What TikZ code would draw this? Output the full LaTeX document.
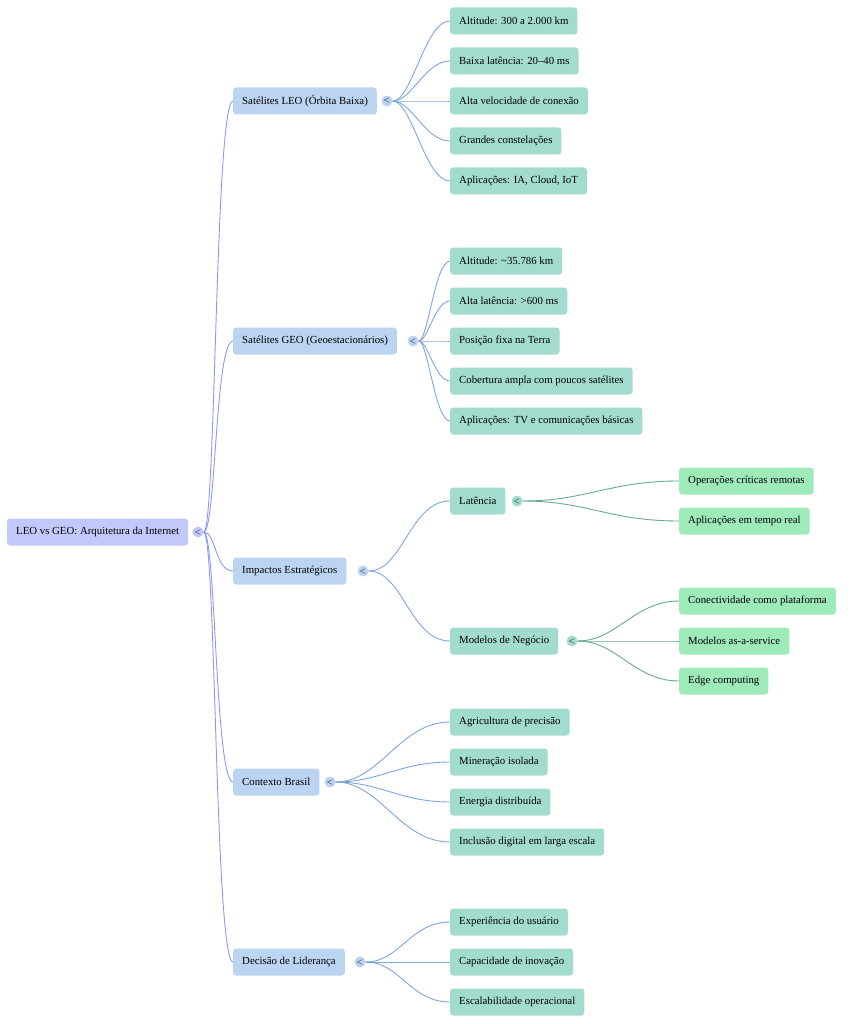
\documentclass[tikz,border=0pt]{standalone}
\usepackage{fontspec}
\setmainfont{Liberation Serif}
\usetikzlibrary{positioning}
\definecolor{rootc}{HTML}{C3C8FA}
\definecolor{lvla}{HTML}{BBD4F1}
\definecolor{lvlb}{HTML}{A2DCCE}
\definecolor{lvlc}{HTML}{9FEAB9}
\definecolor{ea}{HTML}{8E98F2}
\definecolor{eb}{HTML}{7FA5DD}
\definecolor{ec}{HTML}{6AA88F}
\tikzset{
  box/.style={anchor=west, rounded corners=3pt, minimum height=27pt, inner xsep=9pt, font=\fontsize{10.8}{13}\selectfont},
  root/.style={box, fill=rootc},
  topic/.style={box, fill=lvla},
  item/.style={box, fill=lvlb},
  leaf/.style={box, fill=lvlc},
  dot/.style={circle, inner sep=0pt, minimum size=11pt, font=\fontsize{8}{8}\selectfont},
  edge/.style={line width=0.9pt}
}
\newcommand{\link}[3][30]{\draw[edge, #2] (#3) .. controls +(#1,0) and +(-#1,0) ..}
\begin{document}
\begin{tikzpicture}[x=1pt,y=-1pt]
\useasboundingbox (0,0) rectangle (866,1024);

% root
\node[root] (root) at (7,532) {LEO vs GEO: Arquitetura da Internet};
\node[dot, fill=rootc] (rootdot) at (198,532) {$<$};

% first level
\node[topic] (leo) at (233,101) {Satélites LEO (Órbita Baixa)};
\node[topic] (geo) at (233,341) {Satélites GEO (Geoestacionários)};
\node[topic] (imp) at (233,571) {Impactos Estratégicos};
\node[topic] (ctx) at (233,782) {Contexto Brasil};
\node[topic] (dec) at (233,962) {Decisão de Liderança};
\foreach \n in {leo,geo,imp,ctx,dec}
  \link[18]{ea}{rootdot} (\n.west);

\node[dot, fill=lvla] (leodot) at (387,101) {$<$};
\node[dot, fill=lvla] (geodot) at (413,341) {$<$};
\node[dot, fill=lvla] (impdot) at (363,571) {$<$};
\node[dot, fill=lvla] (ctxdot) at (330,782) {$<$};
\node[dot, fill=lvla] (decdot) at (360,962) {$<$};

% LEO
\node[item] (leo1) at (450,21) {Altitude: 300 a 2.000 km};
\node[item] (leo2) at (450,61) {Baixa latência: 20–40 ms};
\node[item] (leo3) at (450,101) {Alta velocidade de conexão};
\node[item] (leo4) at (450,141) {Grandes constelações};
\node[item] (leo5) at (450,181) {Aplicações: IA, Cloud, IoT};
\foreach \i in {1,...,5}
  \link[25]{eb}{leodot} (leo\i.west);

% GEO
\node[item] (geo1) at (450,261) {Altitude: \textasciitilde35.786 km};
\node[item] (geo2) at (450,301) {Alta latência: >600 ms};
\node[item] (geo3) at (450,341) {Posição fixa na Terra};
\node[item] (geo4) at (450,381) {Cobertura ampla com poucos satélites};
\node[item] (geo5) at (450,421) {Aplicações: TV e comunicações básicas};
\foreach \i in {1,...,5}
  \link[15]{eb}{geodot} (geo\i.west);

% impactos
\node[item] (lat) at (450,501) {Latência};
\node[item] (mod) at (450,641) {Modelos de Negócio};
\link[40]{eb}{impdot} (lat.west);
\link[40]{eb}{impdot} (mod.west);
\node[dot, fill=lvlb] (latdot) at (517,501) {$<$};
\node[dot, fill=lvlb] (moddot) at (572,641) {$<$};

\node[leaf] (lat1) at (679,481) {Operações críticas remotas};
\node[leaf] (lat2) at (679,521) {Aplicações em tempo real};
\node[leaf] (mod1) at (679,601) {Conectividade como plataforma};
\node[leaf] (mod2) at (679,641) {Modelos as-a-service};
\node[leaf] (mod3) at (679,681) {Edge computing};
\foreach \i in {1,2}
  \link[70]{ec}{latdot} (lat\i.west);
\foreach \i in {1,2,3}
  \link[45]{ec}{moddot} (mod\i.west);

% contexto
\node[item] (ctx1) at (450,722) {Agricultura de precisão};
\node[item] (ctx2) at (450,762) {Mineração isolada};
\node[item] (ctx3) at (450,802) {Energia distribuída};
\node[item] (ctx4) at (450,842) {Inclusão digital em larga escala};
\foreach \i in {1,...,4}
  \link[50]{eb}{ctxdot} (ctx\i.west);

% decisao
\node[item] (dec1) at (450,922) {Experiência do usuário};
\node[item] (dec2) at (450,962) {Capacidade de inovação};
\node[item] (dec3) at (450,1002) {Escalabilidade operacional};
\foreach \i in {1,2,3}
  \link[40]{eb}{decdot} (dec\i.west);

\end{tikzpicture}
\end{document}
